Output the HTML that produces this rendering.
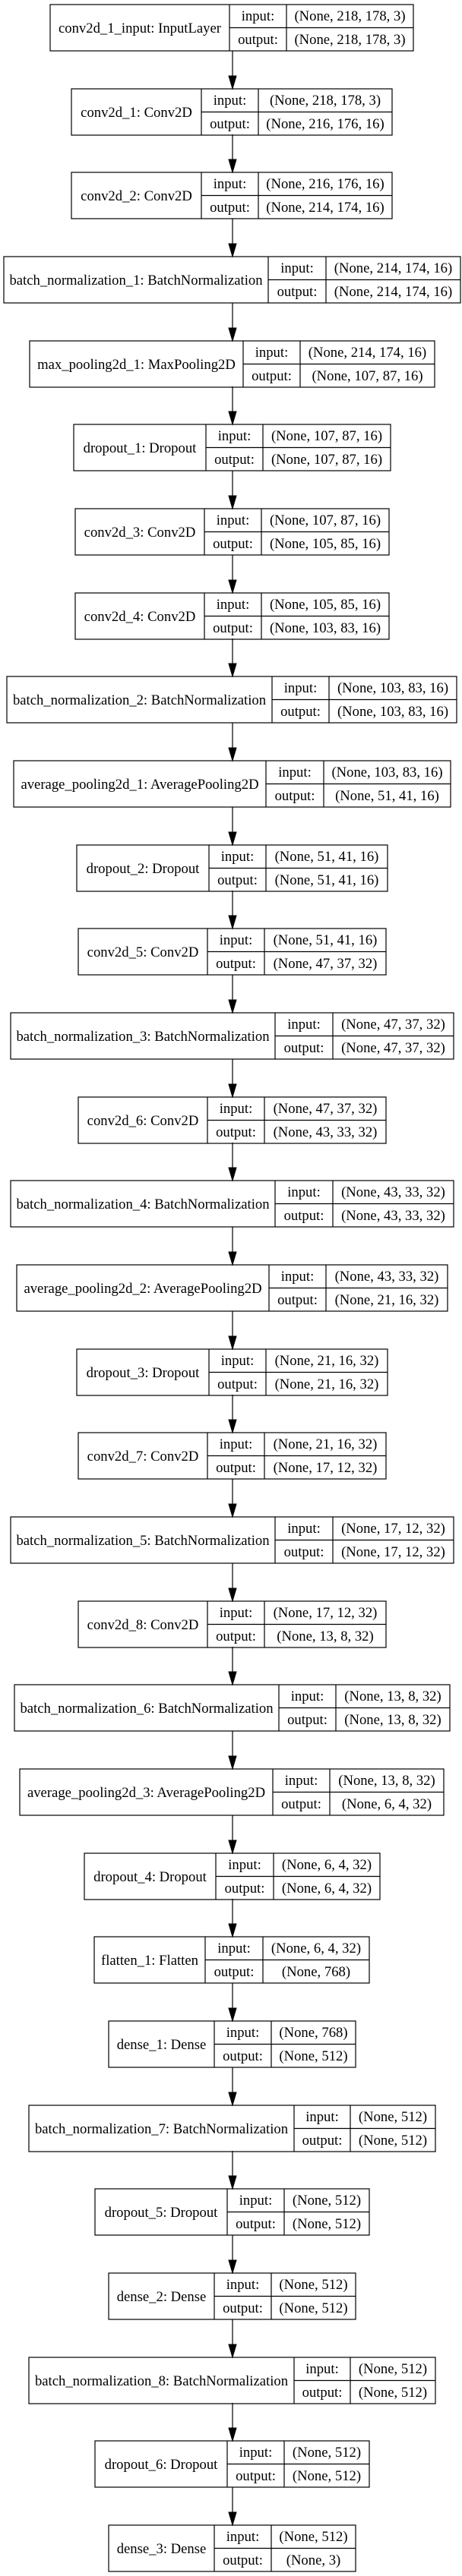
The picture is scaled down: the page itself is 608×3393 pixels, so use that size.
<!DOCTYPE html>
<html><head><meta charset="utf-8"><style>
html,body{margin:0;padding:0;background:#fff;}
svg{display:block}
text{font-family:"Liberation Serif",serif;font-size:18.67px;fill:#000;text-anchor:middle}
rect{fill:none;stroke:#000;stroke-width:1.2}
path{fill:none;stroke:#000;stroke-width:1.2}
polygon{fill:#000;stroke:#000}
</style></head><body>
<svg width="608" height="3393" viewBox="0 0 608 3393" xmlns="http://www.w3.org/2000/svg">
<g transform="translate(0,6)"><rect x="66" y="0" width="478" height="61"/><path d="M302 0V61M377 0V61M302 30.5H544"/><text x="184" y="37">conv2d_1_input: InputLayer</text><text x="339.5" y="21">input:</text><text x="339.5" y="52">output:</text><text x="460.5" y="21">(None, 218, 178, 3)</text><text x="460.5" y="52">(None, 218, 178, 3)</text></g>
<g transform="translate(0,117)"><path d="M306 -50V-17"/><polygon points="301,-17 311,-17 306,0"/><rect x="94" y="0" width="422" height="61"/><path d="M265 0V61M340 0V61M265 30.5H516"/><text x="179.5" y="37">conv2d_1: Conv2D</text><text x="302.5" y="21">input:</text><text x="302.5" y="52">output:</text><text x="428" y="21">(None, 218, 178, 3)</text><text x="428" y="52">(None, 216, 176, 16)</text></g>
<g transform="translate(0,227)"><path d="M306 -50V-17"/><polygon points="301,-17 311,-17 306,0"/><rect x="94" y="0" width="422" height="61"/><path d="M265 0V61M340 0V61M265 30.5H516"/><text x="179.5" y="37">conv2d_2: Conv2D</text><text x="302.5" y="21">input:</text><text x="302.5" y="52">output:</text><text x="428" y="21">(None, 216, 176, 16)</text><text x="428" y="52">(None, 214, 174, 16)</text></g>
<g transform="translate(0,338)"><path d="M306 -50V-17"/><polygon points="301,-17 311,-17 306,0"/><rect x="5" y="0" width="601" height="61"/><path d="M353 0V61M429 0V61M353 30.5H606"/><text x="179" y="37">batch_normalization_1: BatchNormalization</text><text x="391" y="21">input:</text><text x="391" y="52">output:</text><text x="517.5" y="21">(None, 214, 174, 16)</text><text x="517.5" y="52">(None, 214, 174, 16)</text></g>
<g transform="translate(0,449)"><path d="M306 -50V-17"/><polygon points="301,-17 311,-17 306,0"/><rect x="39" y="0" width="533" height="61"/><path d="M320 0V61M395 0V61M320 30.5H572"/><text x="179.5" y="37">max_pooling2d_1: MaxPooling2D</text><text x="357.5" y="21">input:</text><text x="357.5" y="52">output:</text><text x="483.5" y="21">(None, 214, 174, 16)</text><text x="483.5" y="52">(None, 107, 87, 16)</text></g>
<g transform="translate(0,559)"><path d="M306 -50V-17"/><polygon points="301,-17 311,-17 306,0"/><rect x="97" y="0" width="417" height="61"/><path d="M271 0V61M346 0V61M271 30.5H514"/><text x="184" y="37">dropout_1: Dropout</text><text x="308.5" y="21">input:</text><text x="308.5" y="52">output:</text><text x="430" y="21">(None, 107, 87, 16)</text><text x="430" y="52">(None, 107, 87, 16)</text></g>
<g transform="translate(0,670)"><path d="M306 -50V-17"/><polygon points="301,-17 311,-17 306,0"/><rect x="99" y="0" width="413" height="61"/><path d="M269 0V61M344 0V61M269 30.5H512"/><text x="184" y="37">conv2d_3: Conv2D</text><text x="306.5" y="21">input:</text><text x="306.5" y="52">output:</text><text x="428" y="21">(None, 107, 87, 16)</text><text x="428" y="52">(None, 105, 85, 16)</text></g>
<g transform="translate(0,781)"><path d="M306 -50V-17"/><polygon points="301,-17 311,-17 306,0"/><rect x="99" y="0" width="413" height="61"/><path d="M269 0V61M344 0V61M269 30.5H512"/><text x="184" y="37">conv2d_4: Conv2D</text><text x="306.5" y="21">input:</text><text x="306.5" y="52">output:</text><text x="428" y="21">(None, 105, 85, 16)</text><text x="428" y="52">(None, 103, 83, 16)</text></g>
<g transform="translate(0,891)"><path d="M306 -50V-17"/><polygon points="301,-17 311,-17 306,0"/><rect x="9" y="0" width="592" height="61"/><path d="M358 0V61M433 0V61M358 30.5H601"/><text x="183.5" y="37">batch_normalization_2: BatchNormalization</text><text x="395.5" y="21">input:</text><text x="395.5" y="52">output:</text><text x="517" y="21">(None, 103, 83, 16)</text><text x="517" y="52">(None, 103, 83, 16)</text></g>
<g transform="translate(0,1002)"><path d="M306 -50V-17"/><polygon points="301,-17 311,-17 306,0"/><rect x="18" y="0" width="575" height="61"/><path d="M350 0V61M426 0V61M350 30.5H593"/><text x="184" y="37">average_pooling2d_1: AveragePooling2D</text><text x="388" y="21">input:</text><text x="388" y="52">output:</text><text x="509.5" y="21">(None, 103, 83, 16)</text><text x="509.5" y="52">(None, 51, 41, 16)</text></g>
<g transform="translate(0,1113)"><path d="M306 -50V-17"/><polygon points="301,-17 311,-17 306,0"/><rect x="101" y="0" width="409" height="61"/><path d="M275 0V61M350 0V61M275 30.5H510"/><text x="188" y="37">dropout_2: Dropout</text><text x="312.5" y="21">input:</text><text x="312.5" y="52">output:</text><text x="430" y="21">(None, 51, 41, 16)</text><text x="430" y="52">(None, 51, 41, 16)</text></g>
<g transform="translate(0,1223)"><path d="M306 -50V-17"/><polygon points="301,-17 311,-17 306,0"/><rect x="103" y="0" width="405" height="61"/><path d="M273 0V61M348 0V61M273 30.5H508"/><text x="188" y="37">conv2d_5: Conv2D</text><text x="310.5" y="21">input:</text><text x="310.5" y="52">output:</text><text x="428" y="21">(None, 51, 41, 16)</text><text x="428" y="52">(None, 47, 37, 32)</text></g>
<g transform="translate(0,1334)"><path d="M306 -50V-17"/><polygon points="301,-17 311,-17 306,0"/><rect x="14" y="0" width="583" height="61"/><path d="M362 0V61M438 0V61M362 30.5H597"/><text x="188" y="37">batch_normalization_3: BatchNormalization</text><text x="400" y="21">input:</text><text x="400" y="52">output:</text><text x="517.5" y="21">(None, 47, 37, 32)</text><text x="517.5" y="52">(None, 47, 37, 32)</text></g>
<g transform="translate(0,1445)"><path d="M306 -50V-17"/><polygon points="301,-17 311,-17 306,0"/><rect x="103" y="0" width="405" height="61"/><path d="M273 0V61M348 0V61M273 30.5H508"/><text x="188" y="37">conv2d_6: Conv2D</text><text x="310.5" y="21">input:</text><text x="310.5" y="52">output:</text><text x="428" y="21">(None, 47, 37, 32)</text><text x="428" y="52">(None, 43, 33, 32)</text></g>
<g transform="translate(0,1555)"><path d="M306 -50V-17"/><polygon points="301,-17 311,-17 306,0"/><rect x="14" y="0" width="583" height="61"/><path d="M362 0V61M438 0V61M362 30.5H597"/><text x="188" y="37">batch_normalization_4: BatchNormalization</text><text x="400" y="21">input:</text><text x="400" y="52">output:</text><text x="517.5" y="21">(None, 43, 33, 32)</text><text x="517.5" y="52">(None, 43, 33, 32)</text></g>
<g transform="translate(0,1666)"><path d="M306 -50V-17"/><polygon points="301,-17 311,-17 306,0"/><rect x="22" y="0" width="567" height="61"/><path d="M354 0V61M429 0V61M354 30.5H589"/><text x="188" y="37">average_pooling2d_2: AveragePooling2D</text><text x="391.5" y="21">input:</text><text x="391.5" y="52">output:</text><text x="509" y="21">(None, 43, 33, 32)</text><text x="509" y="52">(None, 21, 16, 32)</text></g>
<g transform="translate(0,1777)"><path d="M306 -50V-17"/><polygon points="301,-17 311,-17 306,0"/><rect x="101" y="0" width="409" height="61"/><path d="M275 0V61M350 0V61M275 30.5H510"/><text x="188" y="37">dropout_3: Dropout</text><text x="312.5" y="21">input:</text><text x="312.5" y="52">output:</text><text x="430" y="21">(None, 21, 16, 32)</text><text x="430" y="52">(None, 21, 16, 32)</text></g>
<g transform="translate(0,1887)"><path d="M306 -50V-17"/><polygon points="301,-17 311,-17 306,0"/><rect x="103" y="0" width="405" height="61"/><path d="M273 0V61M348 0V61M273 30.5H508"/><text x="188" y="37">conv2d_7: Conv2D</text><text x="310.5" y="21">input:</text><text x="310.5" y="52">output:</text><text x="428" y="21">(None, 21, 16, 32)</text><text x="428" y="52">(None, 17, 12, 32)</text></g>
<g transform="translate(0,1998)"><path d="M306 -50V-17"/><polygon points="301,-17 311,-17 306,0"/><rect x="14" y="0" width="583" height="61"/><path d="M362 0V61M438 0V61M362 30.5H597"/><text x="188" y="37">batch_normalization_5: BatchNormalization</text><text x="400" y="21">input:</text><text x="400" y="52">output:</text><text x="517.5" y="21">(None, 17, 12, 32)</text><text x="517.5" y="52">(None, 17, 12, 32)</text></g>
<g transform="translate(0,2109)"><path d="M306 -50V-17"/><polygon points="301,-17 311,-17 306,0"/><rect x="103" y="0" width="405" height="61"/><path d="M273 0V61M348 0V61M273 30.5H508"/><text x="188" y="37">conv2d_8: Conv2D</text><text x="310.5" y="21">input:</text><text x="310.5" y="52">output:</text><text x="428" y="21">(None, 17, 12, 32)</text><text x="428" y="52">(None, 13, 8, 32)</text></g>
<g transform="translate(0,2219)"><path d="M306 -50V-17"/><polygon points="301,-17 311,-17 306,0"/><rect x="19" y="0" width="573" height="61"/><path d="M367 0V61M442 0V61M367 30.5H592"/><text x="193" y="37">batch_normalization_6: BatchNormalization</text><text x="404.5" y="21">input:</text><text x="404.5" y="52">output:</text><text x="517" y="21">(None, 13, 8, 32)</text><text x="517" y="52">(None, 13, 8, 32)</text></g>
<g transform="translate(0,2330)"><path d="M306 -50V-17"/><polygon points="301,-17 311,-17 306,0"/><rect x="26" y="0" width="558" height="61"/><path d="M359 0V61M434 0V61M359 30.5H584"/><text x="192.5" y="37">average_pooling2d_3: AveragePooling2D</text><text x="396.5" y="21">input:</text><text x="396.5" y="52">output:</text><text x="509" y="21">(None, 13, 8, 32)</text><text x="509" y="52">(None, 6, 4, 32)</text></g>
<g transform="translate(0,2441)"><path d="M306 -50V-17"/><polygon points="301,-17 311,-17 306,0"/><rect x="111" y="0" width="389" height="61"/><path d="M284 0V61M360 0V61M284 30.5H500"/><text x="197.5" y="37">dropout_4: Dropout</text><text x="322" y="21">input:</text><text x="322" y="52">output:</text><text x="430" y="21">(None, 6, 4, 32)</text><text x="430" y="52">(None, 6, 4, 32)</text></g>
<g transform="translate(0,2551)"><path d="M306 -50V-17"/><polygon points="301,-17 311,-17 306,0"/><rect x="124" y="0" width="362" height="61"/><path d="M270 0V61M346 0V61M270 30.5H486"/><text x="197" y="37">flatten_1: Flatten</text><text x="308" y="21">input:</text><text x="308" y="52">output:</text><text x="416" y="21">(None, 6, 4, 32)</text><text x="416" y="52">(None, 768)</text></g>
<g transform="translate(0,2662)"><path d="M306 -50V-17"/><polygon points="301,-17 311,-17 306,0"/><rect x="143" y="0" width="325" height="61"/><path d="M282 0V61M357 0V61M282 30.5H468"/><text x="212.5" y="37">dense_1: Dense</text><text x="319.5" y="21">input:</text><text x="319.5" y="52">output:</text><text x="412.5" y="21">(None, 768)</text><text x="412.5" y="52">(None, 512)</text></g>
<g transform="translate(0,2773)"><path d="M306 -50V-17"/><polygon points="301,-17 311,-17 306,0"/><rect x="38" y="0" width="535" height="61"/><path d="M387 0V61M461 0V61M387 30.5H573"/><text x="212.5" y="37">batch_normalization_7: BatchNormalization</text><text x="424" y="21">input:</text><text x="424" y="52">output:</text><text x="517" y="21">(None, 512)</text><text x="517" y="52">(None, 512)</text></g>
<g transform="translate(0,2883)"><path d="M306 -50V-17"/><polygon points="301,-17 311,-17 306,0"/><rect x="125" y="0" width="361" height="61"/><path d="M299 0V61M374 0V61M299 30.5H486"/><text x="212" y="37">dropout_5: Dropout</text><text x="336.5" y="21">input:</text><text x="336.5" y="52">output:</text><text x="430" y="21">(None, 512)</text><text x="430" y="52">(None, 512)</text></g>
<g transform="translate(0,2994)"><path d="M306 -50V-17"/><polygon points="301,-17 311,-17 306,0"/><rect x="143" y="0" width="325" height="61"/><path d="M282 0V61M357 0V61M282 30.5H468"/><text x="212.5" y="37">dense_2: Dense</text><text x="319.5" y="21">input:</text><text x="319.5" y="52">output:</text><text x="412.5" y="21">(None, 512)</text><text x="412.5" y="52">(None, 512)</text></g>
<g transform="translate(0,3105)"><path d="M306 -50V-17"/><polygon points="301,-17 311,-17 306,0"/><rect x="38" y="0" width="535" height="61"/><path d="M387 0V61M461 0V61M387 30.5H573"/><text x="212.5" y="37">batch_normalization_8: BatchNormalization</text><text x="424" y="21">input:</text><text x="424" y="52">output:</text><text x="517" y="21">(None, 512)</text><text x="517" y="52">(None, 512)</text></g>
<g transform="translate(0,3215)"><path d="M306 -50V-17"/><polygon points="301,-17 311,-17 306,0"/><rect x="125" y="0" width="361" height="61"/><path d="M299 0V61M374 0V61M299 30.5H486"/><text x="212" y="37">dropout_6: Dropout</text><text x="336.5" y="21">input:</text><text x="336.5" y="52">output:</text><text x="430" y="21">(None, 512)</text><text x="430" y="52">(None, 512)</text></g>
<g transform="translate(0,3326)"><path d="M306 -50V-17"/><polygon points="301,-17 311,-17 306,0"/><rect x="143" y="0" width="325" height="61"/><path d="M282 0V61M357 0V61M282 30.5H468"/><text x="212.5" y="37">dense_3: Dense</text><text x="319.5" y="21">input:</text><text x="319.5" y="52">output:</text><text x="412.5" y="21">(None, 512)</text><text x="412.5" y="52">(None, 3)</text></g>
</svg>
</body></html>
